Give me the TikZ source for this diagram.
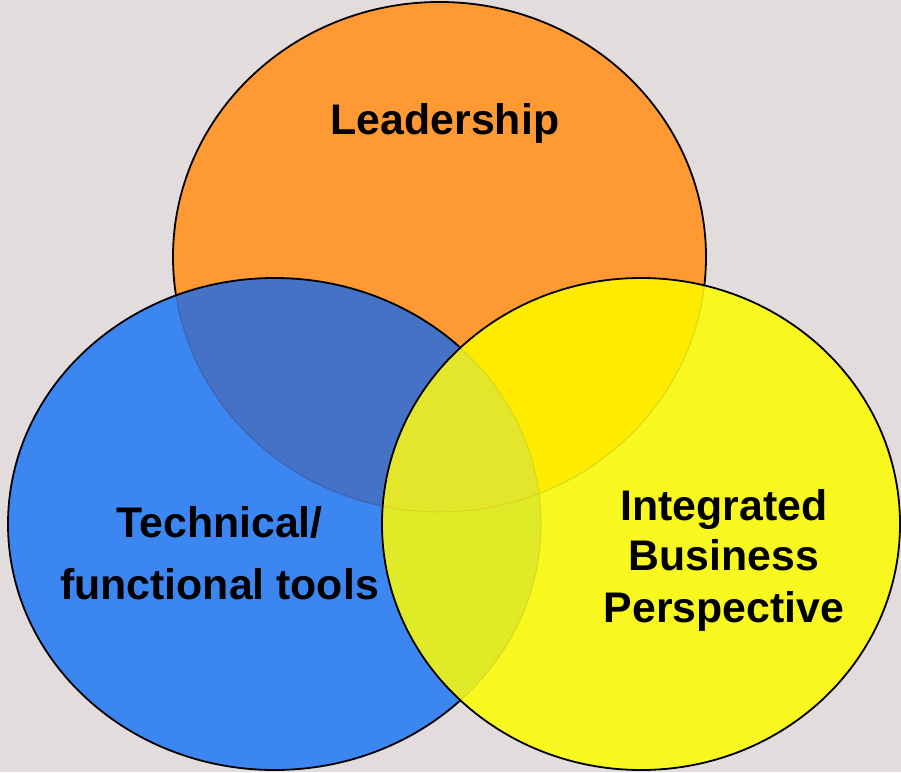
\documentclass[tikz,border=0pt]{standalone}
\usepackage{fontspec}
\setmainfont{Liberation Sans}
\definecolor{bgc}{HTML}{E2DCDD}
\definecolor{orangeC}{HTML}{FF9933}
\definecolor{blueC}{HTML}{3B86F0}
\definecolor{yellowC}{HTML}{F8F820}
\definecolor{ovBO}{HTML}{4571C6}
\definecolor{ovYO}{HTML}{FFEB00}
\definecolor{ovYB}{HTML}{E0EB28}
\definecolor{ovAll}{HTML}{E3E62A}
\definecolor{faintB}{HTML}{3A62AE}
\definecolor{faintY}{HTML}{D8D81A}
\tikzset{
  outline/.style={draw=black, line width=1.8pt},
  faintline/.style={line width=1pt},
  lbl/.style={font=\fontsize{42.8}{51}\selectfont\bfseries, text=black, align=center, inner sep=0pt}
}
\begin{document}
\begin{tikzpicture}[x=1pt,y=1pt]
\useasboundingbox (0,0) rectangle (901,772);
\fill[bgc] (0,0) rectangle (901,772);
% orange (Leadership)
\fill[orangeC] (439.5,515) ellipse [x radius=266.5, y radius=255];
\draw[outline] (439.5,515) ellipse [x radius=266.5, y radius=255];
% blue (Technical)
\fill[blueC] (274.5,248) ellipse [x radius=266.5, y radius=246];
\begin{scope}
  \clip (274.5,248) ellipse [x radius=266.5, y radius=246];
  \fill[ovBO] (439.5,515) ellipse [x radius=266.5, y radius=255];
  \draw[faintline, faintB] (439.5,515) ellipse [x radius=266.5, y radius=255];
\end{scope}
\draw[outline] (274.5,248) ellipse [x radius=266.5, y radius=246];
% yellow (Integrated)
\fill[yellowC] (641,248) ellipse [x radius=259, y radius=246];
\begin{scope}
  \clip (641,248) ellipse [x radius=259, y radius=246];
  \fill[ovYO] (439.5,515) ellipse [x radius=266.5, y radius=255];
  \fill[ovYB] (274.5,248) ellipse [x radius=266.5, y radius=246];
  \begin{scope}
    \clip (274.5,248) ellipse [x radius=266.5, y radius=246];
    \fill[ovAll] (439.5,515) ellipse [x radius=266.5, y radius=255];
  \end{scope}
  \draw[faintline, faintY] (439.5,515) ellipse [x radius=266.5, y radius=255];
  \draw[faintline, faintY] (274.5,248) ellipse [x radius=266.5, y radius=246];
\end{scope}
\draw[outline] (641,248) ellipse [x radius=259, y radius=246];
% labels
\node[lbl, anchor=base] (lead) at (445,637) {Leadership};
\node[lbl, anchor=base] (tech1) at (219.5,235) {Technical/};
\node[lbl, anchor=base] (tech2) at (219.5,173) {functional tools};
\node[lbl, anchor=base] (int1) at (724,252) {Integrated};
\node[lbl, anchor=base] (int2) at (724,202) {Business};
\node[lbl, anchor=base] (int3) at (724,150) {Perspective};
\end{tikzpicture}
\end{document}
